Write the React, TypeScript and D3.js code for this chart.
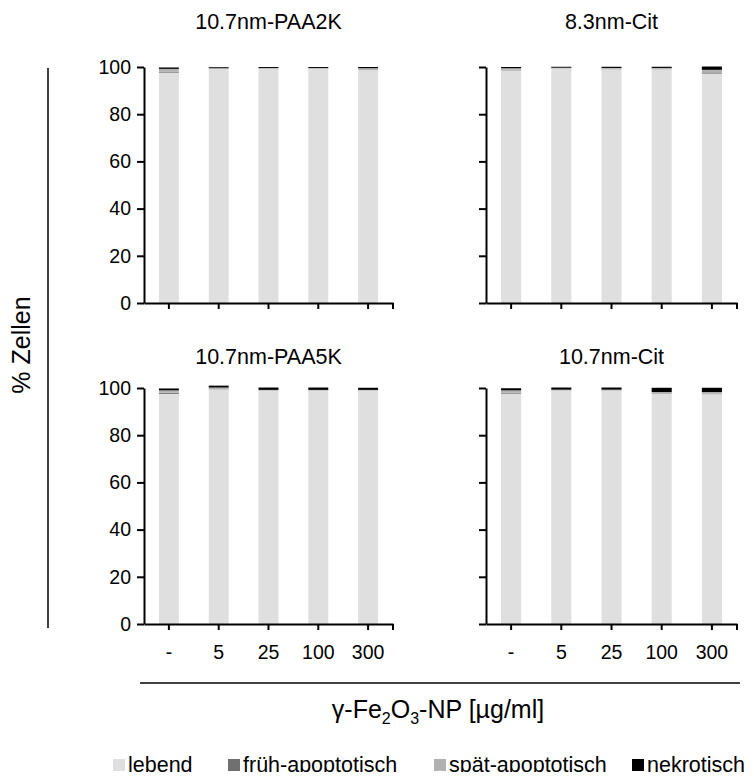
import { useEffect, useRef } from 'react';
import * as d3 from 'd3';

const doses = ['-', '5', '25', '100', '300'];
const panelTitles = ['10.7nm-PAA2K', '8.3nm-Cit', '10.7nm-PAA5K', '10.7nm-Cit'];
const yTicks = [0, 20, 40, 60, 80, 100];

// values per panel (rows) and dose (columns), in %
const lebend = [
  [97.6, 99.2, 99.2, 99.2, 98.7],
  [98.6, 99.5, 99.1, 99.1, 97.2],
  [97.5, 99.4, 99.0, 99.0, 99.0],
  [97.6, 99.0, 99.0, 97.5, 97.4],
];
const fruehApoptotisch = [
  [0.4, 0.1, 0.1, 0.1, 0.2],
  [0.3, 0.1, 0.1, 0.1, 0.5],
  [0.5, 0.1, 0.1, 0.1, 0.1],
  [0.4, 0.1, 0.1, 0.2, 0.2],
];
const spaetApoptotisch = [
  [1.2, 0.2, 0.3, 0.3, 0.6],
  [0.6, 0.1, 0.4, 0.4, 1.1],
  [1.0, 0.7, 0.1, 0.1, 0.1],
  [1.0, 0.2, 0.2, 0.6, 0.7],
];
const nekrotisch = [
  [0.6, 0.4, 0.4, 0.4, 0.5],
  [0.5, 0.4, 0.5, 0.5, 1.4],
  [0.8, 0.8, 1.0, 1.0, 0.9],
  [0.9, 0.9, 0.9, 1.8, 1.8],
];

const seriesKeys = ['lebend', 'frueh', 'spaet', 'nekrotisch'];
const seriesLabels = ['lebend', 'früh-apoptotisch', 'spät-apoptotisch', 'nekrotisch'];
const seriesColors = ['#dfdfdf', '#707070', '#b2b2b2', '#000000'];

const FONT = '"Liberation Sans", Arial, sans-serif';

export default function App() {
  const svgRef = useRef<SVGSVGElement | null>(null);

  useEffect(() => {
    const width = 754;
    const height = 780;
    const svg = d3.select(svgRef.current);
    svg.attr('width', width).attr('height', height).attr('viewBox', `0 0 ${width} ${height}`);
    svg.selectAll('*').remove();

    const layouts = [
      { x0: 144, x1: 393, y0: 303, y1: 67, showY: true, showX: false, titleY: 29 },
      { x0: 486, x1: 737, y0: 303, y1: 67, showY: false, showX: false, titleY: 29 },
      { x0: 144, x1: 393, y0: 624, y1: 388, showY: true, showX: true, titleY: 364 },
      { x0: 486, x1: 737, y0: 624, y1: 388, showY: false, showX: true, titleY: 364 },
    ];

    const stack = d3.stack<any>().keys(seriesKeys);

    layouts.forEach((l, p) => {
      const rows = doses.map((d, i) => ({
        dose: d,
        lebend: lebend[p][i],
        frueh: fruehApoptotisch[p][i],
        spaet: spaetApoptotisch[p][i],
        nekrotisch: nekrotisch[p][i],
      }));

      const x = d3
        .scaleBand()
        .domain(doses)
        .range([l.x0, l.x1])
        .paddingInner(0.6)
        .paddingOuter(0.3);
      const y = d3.scaleLinear().domain([0, 100]).range([l.y0, l.y1]);

      const g = svg.append('g');

      stack(rows).forEach((layer, k) => {
        g.append('g')
          .attr('fill', seriesColors[k])
          .selectAll('rect')
          .data(layer)
          .join('rect')
          .attr('x', (d: any) => x(d.data.dose)!)
          .attr('width', x.bandwidth())
          .attr('y', (d: any) => y(d[1]))
          .attr('height', (d: any) => Math.max(0, y(d[0]) - y(d[1])));
      });

      // y axis
      const yAxis = g
        .append('g')
        .attr('transform', `translate(${l.x0},0)`)
        .call(
          d3
            .axisLeft(y)
            .tickValues(yTicks)
            .tickSize(7)
            .tickSizeOuter(0)
            .tickPadding(6)
            .tickFormat((d) => (l.showY ? String(d) : ''))
        );

      // x axis
      const xAxis = g
        .append('g')
        .attr('transform', `translate(0,${l.y0})`)
        .call(
          d3
            .axisBottom(x)
            .tickSize(6)
            .tickSizeOuter(0)
            .tickPadding(15)
            .tickFormat((d) => (l.showX ? d : ''))
        );
      xAxis
        .append('line')
        .attr('x1', l.x1)
        .attr('x2', l.x1)
        .attr('y1', 0)
        .attr('y2', 6)
        .attr('stroke', '#000');

      [yAxis, xAxis].forEach((a) => {
        a.selectAll('path,line').attr('stroke', '#000').attr('stroke-width', 2);
        a.selectAll('text')
          .attr('fill', '#000')
          .style('font-family', FONT)
          .style('font-size', '19.5px');
      });

      g.append('text')
        .attr('x', (l.x0 + l.x1) / 2)
        .attr('y', l.titleY)
        .attr('text-anchor', 'middle')
        .style('font-family', FONT)
        .style('font-size', '21.5px')
        .text(panelTitles[p]);
    });

    // y label with bracket line
    svg
      .append('line')
      .attr('x1', 48)
      .attr('x2', 48)
      .attr('y1', 68)
      .attr('y2', 628)
      .attr('stroke', '#000')
      .attr('stroke-width', 1.5);
    svg
      .append('text')
      .attr('transform', 'translate(30,345) rotate(-90)')
      .attr('text-anchor', 'middle')
      .style('font-family', FONT)
      .style('font-size', '25px')
      .text('% Zellen');

    // x label with bracket line
    svg
      .append('line')
      .attr('x1', 140)
      .attr('x2', 740)
      .attr('y1', 683)
      .attr('y2', 683)
      .attr('stroke', '#000')
      .attr('stroke-width', 1.5);
    const xl = svg
      .append('text')
      .attr('x', 438)
      .attr('y', 718)
      .attr('text-anchor', 'middle')
      .style('font-family', FONT)
      .style('font-size', '25px');
    xl.append('tspan').text('γ-Fe');
    xl.append('tspan').attr('dy', 6).style('font-size', '16px').text('2');
    xl.append('tspan').attr('dy', -6).text('O');
    xl.append('tspan').attr('dy', 6).style('font-size', '16px').text('3');
    xl.append('tspan').attr('dy', -6).text('-NP [µg/ml]');

    // legend
    const legendX = [113, 228, 434, 632];
    seriesLabels.forEach((lab, i) => {
      const lg = svg.append('g').attr('transform', `translate(${legendX[i]},759)`);
      lg.append('rect').attr('width', 12).attr('height', 12).attr('fill', seriesColors[i]);
      lg.append('text')
        .attr('x', 15)
        .attr('y', 13)
        .style('font-family', FONT)
        .style('font-size', '21.5px')
        .text(lab);
    });
  }, []);

  return <svg ref={svgRef} style={{ display: 'block', margin: '-8px' }}></svg>;
}
